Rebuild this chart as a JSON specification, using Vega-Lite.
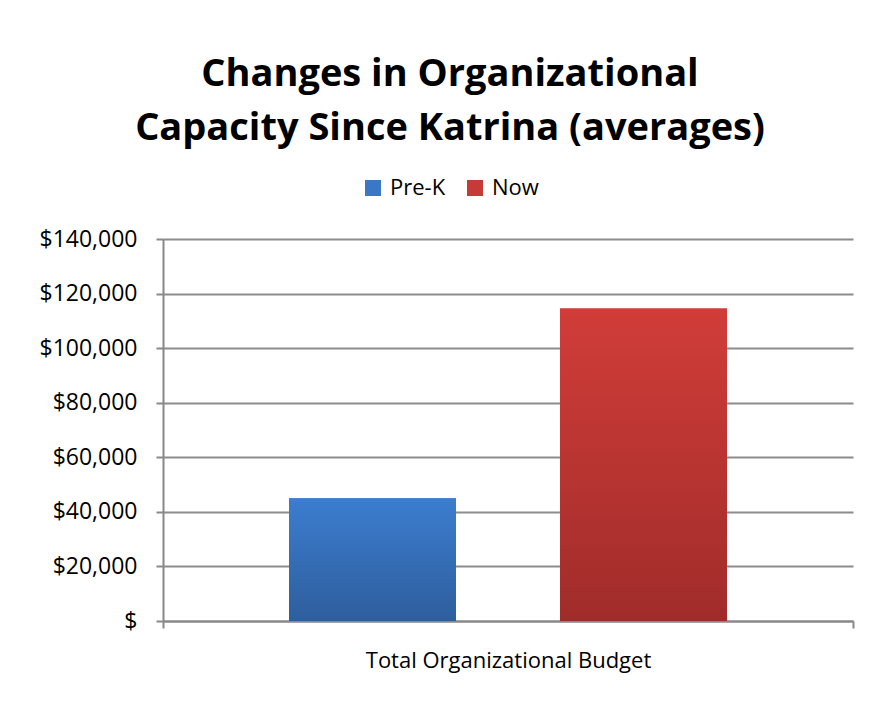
{
  "$schema": "https://vega.github.io/schema/vega-lite/v6.json",
  "width": 690,
  "height": 382,
  "autosize": {"type": "none"},
  "padding": {"left": 163, "top": 239, "right": 23, "bottom": 84},
  "background": "white",
  "title": {
    "text": ["Changes in Organizational", "Capacity Since Katrina (averages)"],
    "font": "Open Sans",
    "fontSize": 38,
    "fontWeight": "bold",
    "lineHeight": 54,
    "color": "#000000",
    "anchor": "middle",
    "dx": -58,
    "offset": 29
  },
  "data": {
    "values": [
      {"category": "Total Organizational Budget", "series": "Pre-K", "value": 45000},
      {"category": "Total Organizational Budget", "series": "Now", "value": 114500}
    ]
  },
  "config": {
    "view": {"stroke": null},
    "font": "Open Sans"
  },
  "encoding": {
    "x": {
      "field": "category",
      "type": "nominal",
      "scale": {"paddingInner": 0, "paddingOuter": 0},
      "axis": {
        "title": null,
        "labelFont": "Open Sans",
        "labelFontSize": 22,
        "labelColor": "#000000",
        "labelAngle": 0,
        "labelLimit": 0,
        "labelPadding": 22,
        "tickBand": "extent",
        "tickSize": 7,
        "tickColor": "#888888",
        "tickWidth": 2,
        "domainColor": "#888888",
        "domainWidth": 2
      }
    },
    "xOffset": {
      "field": "series",
      "type": "nominal",
      "sort": ["Pre-K", "Now"],
      "scale": {"paddingInner": 0.384, "paddingOuter": 0.465}
    },
    "y": {
      "field": "value",
      "type": "quantitative",
      "scale": {"domain": [0, 140000], "nice": false},
      "axis": {
        "title": null,
        "values": [0, 20000, 40000, 60000, 80000, 100000, 120000, 140000],
        "labelExpr": "datum.value == 0 ? '$' : '$' + format(datum.value, ',')",
        "labelFont": "Open Sans",
        "labelFontSize": 23,
        "labelColor": "#000000",
        "labelPadding": 19,
        "tickSize": 7,
        "tickColor": "#888888",
        "tickWidth": 2,
        "grid": true,
        "gridColor": "#8c8c8c",
        "gridWidth": 2,
        "domainColor": "#888888",
        "domainWidth": 2
      }
    }
  },
  "layer": [
    {
      "mark": {"type": "bar"},
      "encoding": {
        "color": {
          "field": "series",
          "type": "nominal",
          "sort": ["Pre-K", "Now"],
          "scale": {"domain": ["Pre-K", "Now"], "range": ["#3A78C6", "#C63A37"]},
          "legend": {
            "title": null,
            "orient": "none",
            "legendX": 199,
            "legendY": -62,
            "direction": "horizontal",
            "symbolType": "square",
            "symbolSize": 256,
            "symbolStrokeWidth": 0,
            "labelFont": "Open Sans",
            "labelFontSize": 22,
            "labelColor": "#000000",
            "labelOffset": 6,
            "columnPadding": 18
          }
        }
      }
    },
    {
      "mark": {"type": "bar"},
      "encoding": {
        "fill": {
          "condition": {
            "test": "datum.series == 'Pre-K'",
            "value": {
              "gradient": "linear", "x1": 0, "y1": 0, "x2": 0, "y2": 1,
              "stops": [{"offset": 0, "color": "#3C7DCF"}, {"offset": 1, "color": "#2E5E9D"}]
            }
          },
          "value": {
            "gradient": "linear", "x1": 0, "y1": 0, "x2": 0, "y2": 1,
            "stops": [{"offset": 0, "color": "#D13D39"}, {"offset": 1, "color": "#A02C2A"}]
          }
        }
      }
    }
  ]
}
